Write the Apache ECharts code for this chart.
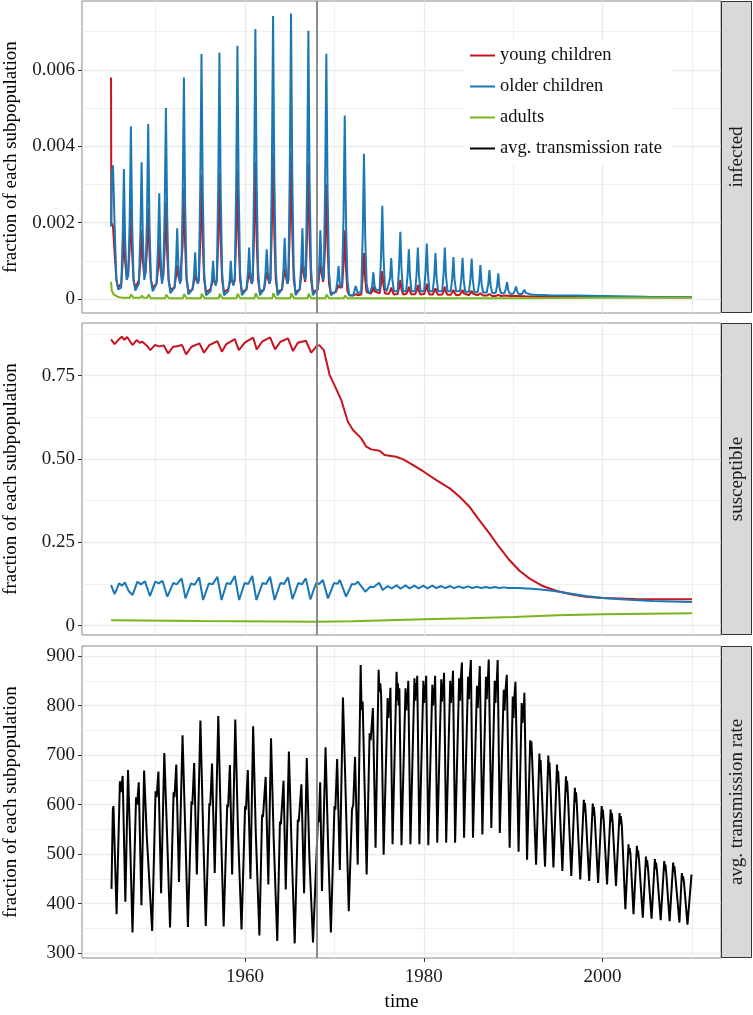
<!DOCTYPE html>
<html><head><meta charset="utf-8">
<script src="https://cdn.jsdelivr.net/npm/echarts@6/dist/echarts.min.js"></script>
<style>html,body{margin:0;padding:0;background:#fff}#c{width:753px;height:1015px}</style>
</head><body><div id="c"></div>
<script>
// ---------------- DATA ----------------
const seriesNames = ['young children', 'older children', 'adults', 'avg. transmission rate'];
const stripLabels = ['infected', 'susceptible', 'avg. transmission rate'];
const interventionYear = 1968;

const xMajorTicks = [1960, 1980, 2000];
const xMinorTicks = [1950, 1970, 1990, 2010];
const infTicks = [0, 0.002, 0.004, 0.006];
const infTickLabels = ['0', '0.002', '0.004', '0.006'];
const infMinor = [0.001, 0.003, 0.005, 0.007];
const susTicks = [0, 0.25, 0.5, 0.75];
const susTickLabels = ['0', '0.25', '0.50', '0.75'];
const susMinor = [0.125, 0.375, 0.625, 0.875];
const trTicks = [300, 400, 500, 600, 700, 800, 900];
const trTickLabels = ['300', '400', '500', '600', '700', '800', '900'];
const trMinor = [350, 450, 550, 650, 750, 850];

// infected, older children
const infOlder = [
[1945.0,0.0019],[1945.1,0.0033],[1945.22,0.0035],[1945.4,0.0019],[1945.6,0.0005],[1945.8,0.00025],
[1946.14,0.0003],[1946.31,0.0017],[1946.44,0.0034],[1946.57,0.0016],[1946.74,0.0005],
[1946.92,0.0006],[1947.08,0.002],[1947.22,0.00452],[1947.36,0.002],[1947.52,0.0005],[1947.72,0.00022],
[1948.12,0.0004],[1948.29,0.0018],[1948.42,0.00358],[1948.55,0.0017],[1948.72,0.0005],
[1948.86,0.0007],[1949.02,0.0021],[1949.16,0.00458],[1949.3,0.002],[1949.46,0.0005],[1949.66,0.0002],
[1950.09,0.0004],[1950.26,0.0014],[1950.39,0.00277],[1950.52,0.0013],[1950.69,0.0004],
[1950.84,0.0006],[1951.0,0.0023],[1951.14,0.005],[1951.28,0.0022],[1951.44,0.0005],[1951.64,0.00015],
[1952.1,0.0003],[1952.27,0.0009],[1952.4,0.00185],[1952.53,0.0009],[1952.7,0.0004],
[1952.85,0.0005],[1953.01,0.0026],[1953.15,0.0058],[1953.29,0.0025],[1953.45,0.0006],[1953.65,0.00012],
[1954.11,0.00025],[1954.28,0.0006],[1954.41,0.00122],[1954.54,0.0006],[1954.71,0.0004],
[1954.82,0.0005],[1954.98,0.0029],[1955.12,0.00641],[1955.26,0.0028],[1955.42,0.0007],[1955.62,0.0001],
[1956.12,0.0002],[1956.29,0.0005],[1956.42,0.001],[1956.55,0.0005],[1956.72,0.00035],
[1956.83,0.0005],[1956.99,0.0029],[1957.13,0.00645],[1957.27,0.0028],[1957.43,0.0007],[1957.63,0.0001],
[1958.1,0.0002],[1958.27,0.0005],[1958.4,0.001],[1958.53,0.0005],[1958.7,0.00035],
[1958.84,0.0005],[1959.0,0.003],[1959.14,0.00663],[1959.28,0.0029],[1959.44,0.0007],[1959.64,0.0001],
[1960.15,0.00025],[1960.32,0.0007],[1960.45,0.00135],[1960.58,0.0007],[1960.75,0.0004],
[1960.85,0.0005],[1961.01,0.0032],[1961.15,0.00707],[1961.29,0.0031],[1961.45,0.0008],[1961.65,0.0001],
[1962.12,0.00025],[1962.29,0.0007],[1962.42,0.0013],[1962.55,0.0007],[1962.72,0.0004],
[1962.83,0.0005],[1962.99,0.0033],[1963.13,0.00741],[1963.27,0.0032],[1963.43,0.0008],[1963.63,0.0001],
[1964.13,0.00025],[1964.3,0.0008],[1964.43,0.0016],[1964.56,0.0008],[1964.73,0.0004],
[1964.84,0.0005],[1965.0,0.0034],[1965.14,0.00747],[1965.28,0.0032],[1965.44,0.0008],[1965.64,0.0001],
[1966.11,0.00025],[1966.28,0.0009],[1966.41,0.00185],[1966.54,0.0009],[1966.71,0.0005],
[1966.79,0.0006],[1966.94,0.0032],[1967.08,0.00702],[1967.22,0.003],[1967.38,0.0008],[1967.58,0.0001],
[1968.12,0.00025],[1968.29,0.0009],[1968.42,0.0018],[1968.55,0.0009],[1968.72,0.0005],
[1968.8,0.0006],[1968.95,0.0029],[1969.09,0.00642],[1969.23,0.0028],[1969.39,0.0007],[1969.59,0.0001],
[1970.15,0.0002],[1970.32,0.00045],[1970.45,0.00086],[1970.58,0.00045],[1970.75,0.0003],
[1970.85,0.0004],[1971.01,0.0021],[1971.15,0.0048],[1971.29,0.002],[1971.45,0.0005],[1971.65,0.0001],
[1972.1,0.0001],[1972.37,0.00034],[1972.6,0.00015],
[1973.0,0.0002],[1973.16,0.0017],[1973.3,0.0038],[1973.44,0.0016],[1973.6,0.0004],[1973.8,0.00015],
[1974.05,0.0002],[1974.22,0.00035],[1974.35,0.0007],[1974.48,0.00035],[1974.68,0.00022],
[1975.05,0.00025],[1975.21,0.0011],[1975.35,0.00244],[1975.49,0.0011],[1975.65,0.0003],[1975.85,0.0002],
[1976.05,0.0002],[1976.22,0.00055],[1976.35,0.00107],[1976.48,0.0005],[1976.65,0.0002],
[1977.07,0.0002],[1977.24,0.0009],[1977.37,0.00176],[1977.5,0.0008],[1977.67,0.0002],
[1978.02,0.0002],[1978.19,0.00065],[1978.32,0.0013],[1978.45,0.0006],[1978.62,0.0002],
[1979.03,0.0002],[1979.2,0.0007],[1979.33,0.00135],[1979.46,0.0006],[1979.63,0.0002],
[1980.03,0.0002],[1980.2,0.00075],[1980.33,0.00145],[1980.46,0.00065],[1980.63,0.0002],
[1981.0,0.0002],[1981.17,0.0006],[1981.3,0.0012],[1981.43,0.00055],[1981.6,0.0002],
[1982.05,0.0002],[1982.22,0.0007],[1982.35,0.00135],[1982.48,0.0006],[1982.65,0.0002],
[1983.01,0.0002],[1983.18,0.00055],[1983.31,0.0011],[1983.44,0.0005],[1983.61,0.0002],
[1984.03,0.0002],[1984.2,0.00055],[1984.33,0.00108],[1984.46,0.0005],[1984.63,0.00019],
[1985.05,0.00019],[1985.22,0.00055],[1985.35,0.00106],[1985.48,0.0005],[1985.65,0.00018],
[1986.03,0.00018],[1986.2,0.00045],[1986.33,0.00089],[1986.46,0.0004],[1986.63,0.00017],
[1987.04,0.00017],[1987.21,0.0004],[1987.34,0.00076],[1987.47,0.00035],[1987.64,0.00016],
[1988.03,0.00016],[1988.2,0.00035],[1988.33,0.00067],[1988.46,0.0003],[1988.63,0.00015],
[1989.01,0.00015],[1989.18,0.00027],[1989.31,0.00044],[1989.44,0.00024],[1989.61,0.00014],
[1990.01,0.00014],[1990.18,0.00022],[1990.31,0.00033],[1990.44,0.0002],[1990.61,0.00013],
[1990.97,0.00013],[1991.14,0.00018],[1991.27,0.00024],[1991.4,0.00016],[1991.6,0.00012],
[1992.0,0.00012],[1992.2,0.00014],[1992.4,0.00011],
[1994,0.0001],[1997,0.00009],[2000,0.00008],[2005,0.00006],[2010,0.00005]
];

// infected, young children
const infYoung = [
[1945.0,0.0058],[1945.03,0.002],[1945.22,0.0019],[1945.4,0.0012],[1945.6,0.0005],[1945.8,0.0003],
[1946.14,0.0004],[1946.31,0.001],[1946.44,0.0018],[1946.57,0.001],[1946.74,0.0006],
[1946.92,0.0007],[1947.08,0.0013],[1947.22,0.0024],[1947.36,0.0012],[1947.52,0.0005],[1947.72,0.0003],
[1948.12,0.0005],[1948.29,0.001],[1948.42,0.0018],[1948.55,0.001],[1948.72,0.0006],
[1948.86,0.0007],[1949.02,0.0013],[1949.16,0.00238],[1949.3,0.0012],[1949.46,0.0005],[1949.66,0.0003],
[1950.09,0.0004],[1950.26,0.0008],[1950.39,0.00145],[1950.52,0.0008],[1950.69,0.0005],
[1950.84,0.0006],[1951.0,0.0013],[1951.14,0.00253],[1951.28,0.0012],[1951.44,0.0005],[1951.64,0.00025],
[1952.1,0.0003],[1952.27,0.0006],[1952.4,0.0009],[1952.53,0.0006],[1952.7,0.00045],
[1952.85,0.0005],[1953.01,0.0014],[1953.15,0.0029],[1953.29,0.0014],[1953.45,0.0005],[1953.65,0.0002],
[1954.11,0.00025],[1954.28,0.00045],[1954.41,0.00065],[1954.54,0.0005],[1954.71,0.00042],
[1954.82,0.0005],[1954.98,0.0015],[1955.12,0.00325],[1955.26,0.0015],[1955.42,0.0005],[1955.62,0.00018],
[1956.12,0.00025],[1956.29,0.0004],[1956.42,0.00055],[1956.55,0.00045],[1956.72,0.00038],
[1956.83,0.0005],[1956.99,0.0015],[1957.13,0.0033],[1957.27,0.0015],[1957.43,0.0005],[1957.63,0.00018],
[1958.1,0.00025],[1958.27,0.0004],[1958.4,0.00055],[1958.53,0.00045],[1958.7,0.0004],
[1958.84,0.0005],[1959.0,0.0016],[1959.14,0.0034],[1959.28,0.0015],[1959.44,0.0005],[1959.64,0.00018],
[1960.15,0.00025],[1960.32,0.0005],[1960.45,0.0007],[1960.58,0.00055],[1960.75,0.0004],
[1960.85,0.0005],[1961.01,0.0017],[1961.15,0.0036],[1961.29,0.0016],[1961.45,0.0005],[1961.65,0.00018],
[1962.12,0.00025],[1962.29,0.0005],[1962.42,0.0007],[1962.55,0.00055],[1962.72,0.0004],
[1962.83,0.0005],[1962.99,0.0018],[1963.13,0.0038],[1963.27,0.0017],[1963.43,0.0005],[1963.63,0.00018],
[1964.13,0.00025],[1964.3,0.00055],[1964.43,0.0008],[1964.56,0.0006],[1964.73,0.0004],
[1964.84,0.0005],[1965.0,0.0018],[1965.14,0.0038],[1965.28,0.0017],[1965.44,0.0005],[1965.64,0.00018],
[1966.11,0.00025],[1966.28,0.0006],[1966.41,0.00102],[1966.54,0.0007],[1966.71,0.00045],
[1966.79,0.0006],[1966.94,0.0017],[1967.08,0.00355],[1967.22,0.0016],[1967.38,0.0005],[1967.58,0.00018],
[1968.12,0.00025],[1968.29,0.0006],[1968.42,0.00095],[1968.55,0.0007],[1968.72,0.00045],
[1968.8,0.0006],[1968.95,0.0014],[1969.09,0.003],[1969.23,0.0014],[1969.39,0.0004],[1969.59,0.00015],
[1970.15,0.00018],[1970.32,0.00028],[1970.45,0.00037],[1970.58,0.0003],[1970.75,0.00025],
[1970.85,0.0003],[1971.01,0.0009],[1971.15,0.0018],[1971.29,0.0008],[1971.45,0.0002],[1971.65,0.0001],
[1972.1,0.00009],[1972.37,0.00013],[1972.6,0.0001],
[1973.0,0.00012],[1973.16,0.0006],[1973.3,0.0012],[1973.44,0.0005],[1973.6,0.00018],[1973.8,0.00013],
[1974.05,0.00014],[1974.22,0.0002],[1974.35,0.00032],[1974.48,0.0002],[1974.68,0.00015],
[1975.05,0.00015],[1975.21,0.0004],[1975.35,0.00073],[1975.49,0.00035],[1975.65,0.00015],[1975.85,0.00013],
[1976.05,0.00013],[1976.22,0.0002],[1976.35,0.0003],[1976.48,0.0002],[1976.65,0.00012],
[1977.07,0.00013],[1977.24,0.0003],[1977.37,0.0005],[1977.5,0.00025],[1977.67,0.00012],
[1978.02,0.00013],[1978.19,0.0002],[1978.32,0.00032],[1978.45,0.0002],[1978.62,0.00012],
[1979.03,0.00013],[1979.2,0.00022],[1979.33,0.00037],[1979.46,0.0002],[1979.63,0.00012],
[1980.03,0.00013],[1980.2,0.00024],[1980.33,0.0004],[1980.46,0.00022],[1980.63,0.00012],
[1981.0,0.00012],[1981.17,0.0002],[1981.3,0.00028],[1981.43,0.00018],[1981.6,0.00011],
[1982.05,0.00012],[1982.22,0.0002],[1982.35,0.00032],[1982.48,0.00018],[1982.65,0.00011],
[1983.01,0.00011],[1983.18,0.00017],[1983.31,0.00024],[1983.44,0.00016],[1983.61,0.0001],
[1984.03,0.00011],[1984.2,0.00017],[1984.33,0.00024],[1984.46,0.00015],[1984.63,0.0001],
[1985.05,0.0001],[1985.22,0.00016],[1985.35,0.00022],[1985.48,0.00014],[1985.65,0.0001],
[1986.03,0.0001],[1986.2,0.00012],[1986.33,0.00015],[1986.46,0.00011],[1986.63,0.00009],
[1987.04,0.00009],[1987.21,0.00011],[1987.34,0.00013],[1987.47,0.0001],[1987.64,0.00008],
[1988.03,0.00008],[1988.33,0.00011],[1988.63,0.00008],
[1989.31,0.00009],[1989.6,0.00008],[1990.31,0.00008],[1991.3,0.00007],[1993,0.00006],[2000,0.00005],[2010,0.00004]
];

// infected, adults
const infAdult = [
[1945.0,0.00045],[1945.08,0.00022],[1945.3,0.00012],[1945.8,0.00005],
[1946.3,0.00003],[1946.45,0.00008],[1946.65,0.00003],
[1947.1,0.00003],[1947.25,0.00012],[1947.5,0.00003],
[1948.3,0.00003],[1948.45,0.00009],[1948.65,0.00003],
[1949.05,0.00003],[1949.2,0.00012],[1949.45,0.00002],
[1950.3,0.00002],[1950.42,0.00007],[1950.6,0.00002],
[1951.05,0.00002],[1951.18,0.00012],[1951.45,0.00002],
[1952.3,0.00002],[1952.43,0.00005],[1952.6,0.00002],
[1953.05,0.00002],[1953.18,0.00013],[1953.45,0.00002],
[1954.3,0.00002],[1954.44,0.00004],[1954.6,0.00002],
[1955.05,0.00002],[1955.15,0.00014],[1955.45,0.00002],
[1956.3,0.00002],[1956.45,0.00004],[1956.6,0.00002],
[1957.05,0.00002],[1957.16,0.00014],[1957.45,0.00002],
[1958.3,0.00002],[1958.43,0.00004],[1958.6,0.00002],
[1959.05,0.00002],[1959.17,0.00014],[1959.45,0.00002],
[1960.35,0.00002],[1960.48,0.00005],[1960.65,0.00002],
[1961.05,0.00002],[1961.18,0.00015],[1961.45,0.00002],
[1962.3,0.00002],[1962.45,0.00005],[1962.6,0.00002],
[1963.05,0.00002],[1963.16,0.00015],[1963.45,0.00002],
[1964.3,0.00002],[1964.46,0.00005],[1964.62,0.00002],
[1965.05,0.00002],[1965.17,0.00015],[1965.45,0.00002],
[1966.3,0.00002],[1966.44,0.00006],[1966.6,0.00002],
[1967.0,0.00002],[1967.11,0.00014],[1967.4,0.00002],
[1968.3,0.00002],[1968.45,0.00006],[1968.6,0.00002],
[1969.0,0.00002],[1969.12,0.00012],[1969.4,0.00002],
[1970.35,0.00002],[1970.48,0.00003],[1970.6,0.00002],
[1971.05,0.00002],[1971.18,0.00009],[1971.45,0.00002],
[1973.2,0.00002],[1973.33,0.00007],[1973.55,0.00002],
[1975.25,0.00002],[1975.38,0.00004],[1975.6,0.00002],
[1990,0.00002],[2000,0.00003],[2010,0.00004]
];

// susceptible, young children
const susYoung = [
[1945.0,0.859],[1945.4,0.845],[1945.8,0.857],[1946.2,0.867],[1946.5,0.858],[1946.8,0.866],[1947.0,0.86],
[1947.4,0.842],[1947.86,0.857],[1948.2,0.849],[1948.5,0.852],[1949.05,0.839],[1949.4,0.827],
[1949.9,0.842],[1950.4,0.838],[1950.9,0.841],[1951.4,0.817],[1951.95,0.837],[1952.5,0.839],[1952.95,0.842],
[1953.4,0.814],[1954.0,0.837],[1954.9,0.847],[1955.4,0.819],[1956.0,0.842],[1956.9,0.854],
[1957.4,0.822],[1957.9,0.845],[1958.85,0.86],[1959.3,0.827],[1959.96,0.849],[1960.9,0.864],
[1961.3,0.829],[1961.9,0.852],[1962.8,0.865],[1963.35,0.829],[1963.95,0.852],[1964.8,0.862],
[1965.36,0.824],[1965.9,0.849],[1966.8,0.855],[1967.4,0.819],[1968.0,0.839],[1968.3,0.842],
[1968.8,0.827],[1969.46,0.752],[1970.0,0.722],[1970.76,0.677],[1971.5,0.612],[1972.07,0.587],
[1973.0,0.562],[1973.56,0.537],[1974.1,0.529],[1975.05,0.525],[1975.6,0.512],[1976.9,0.507],
[1977.7,0.499],[1978.8,0.482],[1980.0,0.462],[1981.4,0.437],[1982.9,0.412],[1984.0,0.387],
[1985.1,0.357],[1986.2,0.317],[1987.34,0.277],[1988.4,0.237],[1989.57,0.197],[1990.7,0.165],
[1991.8,0.142],[1993.3,0.119],[1994.8,0.105],[1996.3,0.095],[1998.1,0.087],[2000.0,0.083],
[2003.7,0.080],[2010.0,0.079]
];

// susceptible, older children
const susOlder = [
[1945.0,0.122],[1945.4,0.095],[1945.9,0.127],[1946.25,0.12],[1946.55,0.13],[1946.95,0.105],[1947.4,0.092],
[1947.95,0.132],[1948.35,0.124],[1948.8,0.133],[1949.35,0.089],
[1949.95,0.132],[1950.35,0.127],[1950.75,0.135],[1951.3,0.087],
[1951.95,0.128],[1952.35,0.124],[1952.9,0.142],[1953.33,0.082],
[1953.95,0.127],[1954.35,0.123],[1954.86,0.145],[1955.3,0.077],
[1955.95,0.127],[1956.35,0.124],[1956.9,0.147],[1957.36,0.077],
[1957.95,0.128],[1958.35,0.125],[1958.85,0.149],[1959.33,0.077],
[1959.95,0.128],[1960.35,0.125],[1960.8,0.149],[1961.27,0.077],
[1961.95,0.128],[1962.35,0.125],[1962.8,0.147],[1963.3,0.077],
[1963.95,0.128],[1964.35,0.125],[1964.8,0.145],[1965.3,0.08],
[1965.95,0.128],[1966.35,0.124],[1966.8,0.142],[1967.3,0.079],
[1967.95,0.128],[1968.3,0.125],[1968.7,0.137],[1969.27,0.082],
[1969.95,0.128],[1970.35,0.126],[1970.6,0.137],[1971.3,0.087],
[1971.95,0.125],[1972.3,0.124],[1972.6,0.132],[1973.45,0.102],
[1974.0,0.117],[1974.4,0.116],[1975.0,0.129],[1975.4,0.107],
[1975.95,0.119],[1976.4,0.112],[1976.95,0.121],[1977.4,0.111],[1977.95,0.121],[1978.4,0.112],
[1978.95,0.12],[1979.4,0.112],[1979.95,0.12],[1980.4,0.112],[1980.95,0.12],[1981.4,0.113],
[1981.95,0.119],[1982.4,0.113],[1982.95,0.119],[1983.4,0.113],[1983.95,0.118],[1984.4,0.113],
[1984.95,0.118],[1985.4,0.113],[1985.95,0.117],[1986.4,0.113],[1986.95,0.116],[1987.4,0.113],
[1987.95,0.116],[1988.4,0.113],[1988.95,0.115],[1989.4,0.113],[1990.5,0.113],[1992.5,0.11],
[1994.4,0.105],[1996,0.098],[1998.1,0.089],[2000,0.083],[2002,0.079],[2005.6,0.074],[2010,0.071]
];

// susceptible, adults
const susAdult = [
[1945.0,0.016],[1955,0.014],[1968,0.012],[1972,0.013],[1976,0.016],[1980,0.019],[1985,0.022],
[1990,0.026],[1995,0.031],[2000,0.034],[2005,0.036],[2010,0.037]
];

// average transmission rate
const transRate = [
[1945.05,430],[1945.2,590],[1945.27,597],[1945.62,379],
[1945.99,647],[1946.1,625],[1946.3,658],[1946.6,404],
[1946.9,670],[1947.1,550],[1947.4,342],
[1947.8,615],[1947.92,600],[1948.1,645],[1948.4,397],
[1948.7,669],[1949.0,536],[1949.6,345],
[1949.98,627],[1950.1,615],[1950.3,667],[1950.6,421],
[1950.96,704],[1951.25,550],[1951.6,352],
[1952.0,625],[1952.1,615],[1952.3,681],[1952.6,444],
[1953.0,740],[1953.3,550],[1953.6,353],
[1954.0,607],[1954.1,600],[1954.3,684],[1954.6,459],
[1955.0,770],[1955.3,550],[1955.6,355],
[1956.0,603],[1956.1,598],[1956.3,683],[1956.6,462],
[1957.0,779],[1957.3,550],[1957.6,354],
[1958.0,600],[1958.1,595],[1958.3,680],[1958.55,459],
[1958.9,772],[1959.2,550],[1959.6,348],
[1960.0,597],[1960.1,590],[1960.3,670],[1960.6,450],
[1960.9,758],[1961.2,540],[1961.6,336],
[1961.9,580],[1962.0,575],[1962.3,656],[1962.6,439],
[1962.9,734],[1963.2,530],[1963.6,325],
[1963.9,566],[1964.0,560],[1964.3,648],[1964.55,429],
[1964.9,707],[1965.2,515],[1965.55,320],
[1965.9,570],[1966.0,565],[1966.3,641],[1966.6,421],
[1966.9,694],[1967.2,490],[1967.6,322],
[1968.15,570],[1968.25,565],[1968.4,645],[1968.6,426],
[1969.0,716],[1969.3,509],[1969.6,342],
[1970.0,597],[1970.1,590],[1970.3,692],[1970.6,468],
[1970.95,816],[1971.2,657],[1971.6,385],
[1971.96,590],[1972.1,600],[1972.3,696],[1972.6,479],
[1972.93,882],[1973.03,791],[1973.15,808],[1973.6,459],
[1973.93,744],[1974.05,730],[1974.3,795],[1974.6,513],
[1974.94,872],[1975.02,828],[1975.12,845],[1975.22,822],[1975.5,499],
[1975.95,815],[1976.04,775],[1976.1,805],[1976.17,796],[1976.26,836],[1976.5,520],
[1976.95,868],[1977.04,811],[1977.1,845],[1977.17,800],[1977.26,835],[1977.5,518],
[1977.95,835],[1978.04,790],[1978.1,825],[1978.17,810],[1978.26,850],[1978.5,520],
[1978.95,855],[1979.04,810],[1979.1,845],[1979.17,820],[1979.26,860],[1979.5,520],
[1979.95,850],[1980.04,805],[1980.1,840],[1980.17,820],[1980.26,860],[1980.5,518],
[1980.95,842],[1981.04,800],[1981.1,832],[1981.17,820],[1981.26,860],[1981.5,523],
[1981.95,853],[1982.04,808],[1982.1,843],[1982.17,826],[1982.26,866],[1982.5,523],
[1982.95,850],[1983.04,805],[1983.1,840],[1983.17,830],[1983.26,870],[1983.5,523],
[1983.95,855],[1984.04,810],[1984.1,845],[1984.17,847],[1984.26,887],[1984.5,533],
[1984.95,858],[1985.04,813],[1985.1,848],[1985.17,852],[1985.26,892],[1985.5,533],
[1985.95,840],[1986.04,795],[1986.1,830],[1986.17,840],[1986.26,880],[1986.55,540],
[1986.95,858],[1987.04,813],[1987.1,848],[1987.17,853],[1987.26,893],[1987.55,553],
[1987.93,850],[1988.02,805],[1988.08,840],[1988.17,852],[1988.26,892],[1988.5,543],
[1988.94,832],[1989.03,790],[1989.1,822],[1989.17,822],[1989.28,862],[1989.6,513],
[1989.95,818],[1990.04,775],[1990.1,808],[1990.17,808],[1990.25,848],[1990.6,505],
[1990.95,805],[1991.04,765],[1991.1,795],[1991.17,786],[1991.25,826],[1991.55,489],
[1991.9,730],[1991.97,700],[1992.03,728],[1992.12,691],[1992.56,479],
[1992.93,703],[1993.0,665],[1993.06,690],[1993.15,650],[1993.56,475],
[1993.93,699],[1994.0,660],[1994.06,685],[1994.15,645],[1994.5,473],
[1994.9,681],[1994.97,645],[1995.03,668],[1995.12,633],[1995.5,466],
[1995.9,657],[1995.97,625],[1996.03,648],[1996.12,620],[1996.5,456],
[1996.9,634],[1996.97,605],[1997.03,625],[1997.12,600],[1997.5,449],
[1997.9,610],[1997.97,585],[1998.03,603],[1998.12,580],[1998.5,446],
[1998.9,602],[1998.97,578],[1999.03,595],[1999.12,575],[1999.5,442],
[1999.9,597],[1999.97,572],[2000.03,590],[2000.12,570],[2000.5,439],
[2000.9,590],[2000.97,565],[2001.03,583],[2001.12,565],[2001.5,436],
[2001.9,583],[2001.97,560],[2002.03,577],[2002.15,560],[2002.55,389],
[2002.9,520],[2002.97,500],[2003.03,512],[2003.12,500],[2003.46,379],
[2003.84,517],[2003.91,495],[2003.97,508],[2004.08,488],[2004.5,372],
[2004.85,495],[2004.92,475],[2004.98,488],[2005.08,472],[2005.48,370],
[2005.85,490],[2005.92,470],[2005.98,483],[2006.08,468],[2006.5,367],
[2006.9,486],[2006.97,467],[2007.03,479],[2007.12,463],[2007.5,365],
[2007.9,483],[2007.97,463],[2008.03,476],[2008.12,460],[2008.6,362],
[2008.87,462],[2008.94,447],[2009.0,455],[2009.1,445],[2009.5,358],
[2009.95,459]
];

// ---------------- CHART ----------------
const FONT = '"Liberation Serif", "Times New Roman", "DejaVu Serif", serif';
const COLORS = { young: '#C8141E', older: '#1A78B4', adult: '#7AB51D', rate: '#000000' };
const X_MIN = 1941.75, X_MAX = 2013.25;
const PL = 82, PW = 639, PH = 312;
const panels = [
  { top: 1,   yMin: -0.000366, yMax: 0.0078, ticks: infTicks, labels: infTickLabels, minor: infMinor },
  { top: 323, yMin: -0.0279,   yMax: 0.9082, ticks: susTicks, labels: susTickLabels, minor: susMinor },
  { top: 646, yMin: 290.5,     yMax: 920.2,  ticks: trTicks,  labels: trTickLabels,  minor: trMinor }
];
const GRID_COLOR = '#EBEBEB';

function labelFor(p, v) {
  const i = p.ticks.findIndex(t => Math.abs(t - v) < 1e-9 * Math.max(1, Math.abs(t)));
  return i >= 0 ? p.labels[i] : '';
}

const grid = panels.map(p => ({
  left: PL, top: p.top, width: PW, height: PH, show: true,
  borderColor: '#8a8a8a', borderWidth: 1, backgroundColor: '#ffffff',
  containLabel: false, outerBoundsMode: 'none'
}));

const xAxis = [];
const yAxis = [];
panels.forEach((p, i) => {
  const last = i === panels.length - 1;
  xAxis.push({
    type: 'value', gridIndex: i, min: X_MIN, max: X_MAX,
    axisLine: { show: false, onZero: false },
    axisTick: { show: last, customValues: xMajorTicks, length: 4, lineStyle: { color: '#333', width: 1 } },
    axisLabel: { show: last, customValues: xMajorTicks, formatter: v => String(v), fontFamily: FONT, fontSize: 19, color: '#1a1a1a', margin: 10 },
    splitLine: { show: true, lineStyle: { color: GRID_COLOR, width: 1.4 } },
    name: last ? 'time' : '', nameLocation: 'middle', nameGap: 35,
    nameTextStyle: { fontFamily: FONT, fontSize: 19, color: '#000' }
  });
  yAxis.push({
    type: 'value', gridIndex: i, min: p.yMin, max: p.yMax,
    axisLine: { show: false, onZero: false },
    axisTick: { show: true, customValues: p.ticks, length: 4, lineStyle: { color: '#333', width: 1 } },
    axisLabel: { customValues: p.ticks, formatter: v => labelFor(p, v), fontFamily: FONT, fontSize: 19, color: '#1a1a1a', margin: 7 },
    splitLine: { show: true, lineStyle: { color: GRID_COLOR, width: 1.4 } },
    name: 'fraction of each subpopulation', nameLocation: 'middle', nameGap: 61,
    nameTextStyle: { fontFamily: FONT, fontSize: 19, color: '#000' }
  });
});
panels.forEach((p, i) => {
  xAxis.push({
    type: 'value', gridIndex: i, min: X_MIN, max: X_MAX, position: 'bottom',
    axisLine: { show: false, onZero: false }, axisTick: { show: false, customValues: xMinorTicks },
    axisLabel: { show: false, customValues: xMinorTicks },
    splitLine: { show: true, lineStyle: { color: GRID_COLOR, width: 0.8 } }
  });
  yAxis.push({
    type: 'value', gridIndex: i, min: p.yMin, max: p.yMax, position: 'left',
    axisLine: { show: false, onZero: false }, axisTick: { show: false, customValues: p.minor },
    axisLabel: { show: false, customValues: p.minor },
    splitLine: { show: true, lineStyle: { color: GRID_COLOR, width: 0.8 } }
  });
});

function line(name, data, color, panel, withMark) {
  const s = {
    name, type: 'line', data, xAxisIndex: panel, yAxisIndex: panel,
    showSymbol: false, symbol: 'none', smooth: false, animation: false,
    lineStyle: { color, width: 2 }, itemStyle: { color }, z: 3
  };
  if (withMark) {
    s.markLine = {
      silent: true, symbol: ['none', 'none'], label: { show: false }, animation: false,
      lineStyle: { color: '#808080', width: 1.8, type: 'solid' },
      data: [{ xAxis: interventionYear }]
    };
  }
  return s;
}

const series = [
  line(seriesNames[0], infYoung, COLORS.young, 0, true),
  line(seriesNames[1], infOlder, COLORS.older, 0, false),
  line(seriesNames[2], infAdult, COLORS.adult, 0, false),
  line(seriesNames[0], susYoung, COLORS.young, 1, true),
  line(seriesNames[1], susOlder, COLORS.older, 1, false),
  line(seriesNames[2], susAdult, COLORS.adult, 1, false),
  line(seriesNames[3], transRate, COLORS.rate, 2, true)
];

const graphic = panels.map((p, i) => ({
  type: 'group',
  children: [
    { type: 'rect', shape: { x: 721.5, y: p.top + 0.5, width: 30, height: PH - 1 },
      style: { fill: '#D9D9D9', stroke: '#333333', lineWidth: 1 } },
    { type: 'text', x: 737, y: p.top + PH / 2, rotation: Math.PI / 2,
      style: { text: stripLabels[i], fontFamily: 'Liberation Serif', fontSize: 19, fill: '#1a1a1a',
               align: 'center', verticalAlign: 'middle', textAlign: 'center', textVerticalAlign: 'middle' } }
  ]
}));

const option = {
  backgroundColor: '#ffffff',
  animation: false,
  grid, xAxis, yAxis, series, graphic,
  legend: {
    orient: 'vertical', left: 464, top: 40, padding: [6, 10, 6, 6],
    backgroundColor: '#ffffff', itemWidth: 25, itemHeight: 2, itemGap: 12, icon: 'rect',
    selectedMode: false,
    textStyle: { fontFamily: FONT, fontSize: 18.5, color: '#111' },
    data: seriesNames
  }
};

const chart = echarts.init(document.getElementById('c'), null, { renderer: 'canvas' });
chart.setOption(option);
</script>
</body></html>
